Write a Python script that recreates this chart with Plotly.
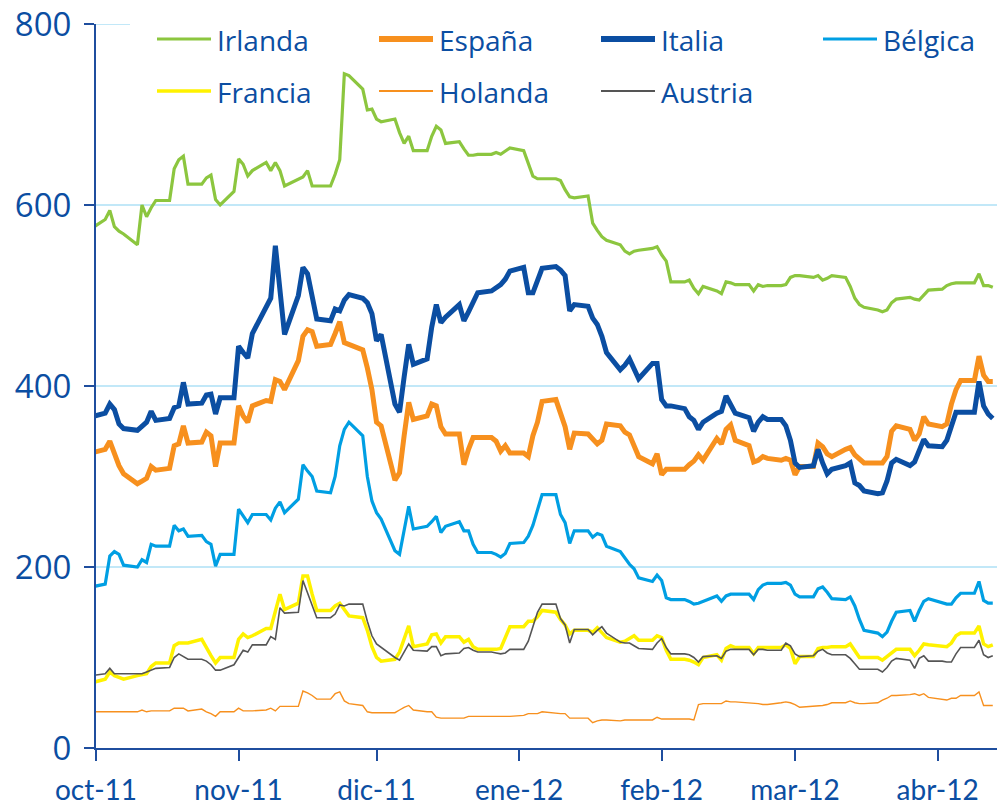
import pandas as pd
import plotly.graph_objects as go

# Business days from 30-Sep-2011 to 13-Apr-2012 (141 observations)
dates = pd.bdate_range("2011-09-30", "2012-04-13")

irlanda = [574,
    584, 594, 576, 571, 568, 556, 600, 587, 597, 605, 605, 640, 650, 654, 623, 623, 630, 633, 606, 600, 615,
    651, 645, 632, 638, 647, 638, 647, 638, 621, 629, 631, 638, 621, 621, 621, 634, 650, 745, 743, 728, 705, 706,
    695, 692, 695, 680, 668, 676, 660, 660, 676, 687, 683, 668, 670, 662, 655, 655, 656, 656, 658, 656, 660, 663,
    660, 645, 632, 629, 629, 629, 627, 617, 609, 608, 610, 580, 572, 565, 561, 556, 549, 546, 549, 550, 552, 554,
    545, 538, 515, 515, 517, 508, 502, 510, 505, 502, 515, 514, 512, 512, 505, 512, 510, 511, 511, 512, 520,
    522, 522, 520, 522, 517, 519, 522, 520, 510, 497, 490, 487, 484, 482, 484, 492, 496, 498, 496, 495, 501, 506,
    507, 511, 513, 514, 514, 514, 524, 511, 511, 509]

espana = [326,
    330, 339, 324, 312, 303, 292, 295, 298, 311, 307, 309, 334, 336, 356, 337, 338, 349, 345, 311, 337, 337,
    378, 367, 360, 378, 384, 383, 407, 405, 396, 428, 455, 462, 460, 444, 446, 458, 471, 448, 446, 440, 420, 396,
    360, 356, 296, 304, 345, 382, 363, 367, 380, 378, 355, 347, 347, 313, 330, 343, 343, 343, 339, 328, 334, 326,
    326, 322, 345, 360, 383, 385, 370, 355, 330, 348, 347, 342, 336, 340, 358, 356, 349, 346, 335, 322, 314, 325,
    302, 308, 308, 308, 313, 317, 324, 318, 342, 336, 352, 357, 340, 334, 316, 318, 322, 320, 318, 320, 318,
    302, 311, 311, 337, 333, 325, 322, 330, 332, 324, 320, 315, 315, 315, 322, 350, 356, 352, 340, 347, 366, 358,
    355, 358, 380, 396, 406, 406, 433, 412, 405, 405]

italia = [366,
    370, 380, 374, 358, 353, 351, 356, 360, 372, 362, 364, 376, 378, 404, 380, 381, 390, 391, 369, 387, 387,
    444, 437, 431, 458, 488, 497, 555, 506, 457, 500, 531, 524, 500, 474, 472, 485, 483, 495, 501, 497, 492, 480,
    450, 457, 380, 371, 410, 446, 424, 430, 465, 490, 470, 476, 490, 472, 482, 494, 503, 505, 509, 512, 518, 527,
    531, 503, 503, 515, 530, 532, 528, 522, 483, 490, 488, 475, 468, 455, 437, 418, 423, 430, 420, 408, 425, 425,
    385, 378, 378, 375, 366, 362, 352, 360, 370, 372, 389, 378, 370, 365, 350, 360, 366, 363, 363, 356, 340,
    315, 310, 312, 330, 315, 303, 308, 312, 315, 293, 290, 284, 281, 282, 295, 315, 319, 312, 316, 328, 341, 334,
    333, 340, 358, 371, 371, 371, 405, 378, 369, 364]

belgica = [178,
    181, 212, 217, 214, 202, 200, 208, 205, 225, 223, 223, 246, 240, 242, 234, 235, 228, 225, 201, 214, 214,
    264, 256, 249, 258, 258, 252, 265, 272, 260, 275, 313, 306, 300, 284, 282, 300, 334, 352, 360, 345, 300, 273,
    260, 253, 218, 214, 240, 267, 242, 245, 250, 256, 238, 245, 250, 240, 240, 225, 216, 216, 214, 211, 215, 226,
    227, 234, 246, 262, 280, 280, 258, 249, 226, 240, 240, 233, 237, 235, 223, 217, 210, 203, 198, 188, 184, 191,
    185, 166, 164, 164, 162, 159, 160, 162, 168, 162, 168, 170, 170, 170, 164, 175, 180, 182, 182, 183, 180,
    170, 167, 167, 176, 178, 172, 165, 164, 167, 157, 142, 130, 127, 123, 128, 140, 150, 152, 140, 152, 162, 165,
    160, 159, 159, 166, 171, 171, 184, 163, 160, 160]

francia = [72,
    76, 84, 80, 78, 76, 80, 81, 82, 90, 94, 94, 113, 116, 116, 116, 120, 110, 102, 94, 100, 100,
    120, 126, 122, 124, 132, 132, 150, 170, 153, 160, 190, 190, 170, 152, 152, 157, 160, 153, 146, 144, 130, 112,
    100, 96, 98, 106, 120, 135, 112, 115, 125, 126, 116, 123, 123, 117, 120, 112, 109, 109, 109, 110, 122, 134,
    134, 140, 140, 145, 152, 150, 142, 136, 126, 130, 130, 128, 133, 128, 122, 117, 118, 121, 124, 119, 119, 124,
    122, 108, 98, 98, 97, 95, 92, 100, 103, 97, 110, 113, 111, 111, 104, 111, 111, 111, 111, 114, 110,
    93, 101, 101, 110, 111, 111, 112, 112, 115, 108, 100, 100, 100, 97, 101, 106, 109, 109, 102, 108, 115, 114,
    112, 112, 116, 124, 127, 127, 135, 115, 112, 114]

holanda = [40,
    40, 40, 40, 40, 40, 40, 42, 40, 41, 41, 41, 44, 44, 44, 41, 43, 40, 38, 35, 40, 40,
    44, 41, 41, 41, 42, 44, 41, 46, 46, 46, 63, 61, 58, 54, 54, 60, 62, 52, 49, 47, 40, 39,
    39, 39, 39, 42, 45, 47, 42, 40, 40, 34, 33, 33, 33, 33, 35, 35, 35, 35, 35, 35, 35, 35,
    36, 38, 38, 38, 40, 38, 38, 38, 33, 33, 33, 28, 30, 31, 31, 30, 31, 31, 31, 31, 31, 34,
    32, 32, 32, 32, 32, 31, 48, 49, 49, 49, 52, 51, 51, 50, 50, 49, 48, 48, 50, 51, 50,
    48, 45, 46, 47, 47, 48, 50, 50, 52, 50, 49, 49, 50, 53, 55, 58, 58, 59, 60, 58, 60, 56,
    54, 53, 55, 55, 58, 58, 62, 47, 47, 47]

austria = [80,
    82, 88, 82, 82, 82, 82, 82, 84, 86, 88, 89, 100, 104, 101, 98, 98, 96, 92, 86, 86, 92,
    100, 108, 106, 114, 114, 123, 120, 155, 149, 150, 185, 172, 157, 144, 144, 148, 158, 157, 159, 159, 140, 124,
    115, 111, 100, 97, 106, 115, 108, 107, 112, 112, 102, 104, 105, 110, 111, 108, 106, 106, 105, 104, 105, 109,
    109, 118, 134, 150, 159, 159, 143, 136, 116, 131, 131, 125, 130, 134, 127, 117, 116, 116, 113, 110, 109, 116,
    121, 111, 104, 104, 103, 100, 95, 101, 102, 99, 107, 109, 109, 109, 103, 109, 109, 108, 108, 116, 113,
    104, 101, 102, 107, 109, 105, 103, 103, 99, 93, 87, 87, 87, 84, 89, 96, 99, 97, 88, 99, 102, 96,
    96, 95, 95, 104, 111, 111, 119, 103, 100, 102]

tick_dates = ["2011-10-01", "2011-11-01", "2011-12-01", "2012-01-01",
              "2012-02-01", "2012-03-01", "2012-04-01"]
tick_labels = ["oct-11", "nov-11", "dic-11", "ene-12", "feb-12", "mar-12", "abr-12"]
y_ticks = [0, 200, 400, 600, 800]

series = [
    ("Irlanda", irlanda, "#8CC63F", 3.2),
    ("España", espana, "#F7901E", 5),
    ("Italia", italia, "#0B4EA2", 5),
    ("Bélgica", belgica, "#009FE3", 3.2),
    ("Francia", francia, "#FFF200", 3.5),
    ("Holanda", holanda, "#F7901E", 1.4),
    ("Austria", austria, "#555555", 1.6),
]
for name, vals, _, _ in series:
    assert len(vals) == len(dates), (name, len(vals), len(dates))

TXT = "#0B4EA2"
AX = "#1F4E9E"
GRID = "#C2E8F8"

W, H = 997, 807
L, R, T, B = 96, 0, 24, 807 - 748

PLOT_L, PLOT_R, PLOT_T, PLOT_B = 96, 997, 24, 748  # page pixels

def px2x(px):
    return (px - PLOT_L) / (PLOT_R - PLOT_L)

def py2y(py):
    return (PLOT_B - py) / (PLOT_B - PLOT_T)

fig = go.Figure()
for name, vals, color, width in series:
    fig.add_trace(go.Scatter(x=dates, y=vals, mode="lines", name=name,
                             line=dict(color=color, width=width), showlegend=False))

shapes = []
for g in [200, 400, 600]:
    shapes.append(dict(type="line", xref="paper", yref="y", x0=0, x1=1, y0=g, y1=g,
                       line=dict(color=GRID, width=2), layer="below"))
shapes.append(dict(type="line", xref="paper", yref="y", x0=0, x1=px2x(130), y0=800, y1=800,
                   line=dict(color=GRID, width=2), layer="below"))

annotations = []
cols = [157, 379, 601, 823]
rows = [39, 91]
for i, (name, vals, color, width) in enumerate(series):
    cx = cols[i % 4]
    ry = rows[i // 4]
    lw = 6 if width >= 5 else max(width, 2)
    shapes.append(dict(type="line", xref="paper", yref="paper",
                       x0=px2x(cx), x1=px2x(cx + 54), y0=py2y(ry), y1=py2y(ry),
                       line=dict(color=color, width=lw)))
    annotations.append(dict(text=name, xref="paper", yref="paper", x=px2x(cx + 58), y=py2y(ry + 1),
                            xanchor="left", yanchor="middle", showarrow=False,
                            font=dict(family="Open Sans", size=28, color=TXT)))

fig.update_layout(
    width=W, height=H,
    margin=dict(l=L, r=R, t=T, b=B, autoexpand=False),
    paper_bgcolor="white", plot_bgcolor="white",
    shapes=shapes, annotations=annotations,
    showlegend=False,
    xaxis=dict(type="date", range=["2011-10-01", "2012-04-13 22:00"],
               tickvals=tick_dates, ticktext=tick_labels,
               ticks="outside", ticklen=11, tickwidth=2, tickcolor=AX,
               showline=True, linecolor=AX, linewidth=2,
               showgrid=False, zeroline=False, automargin=False,
               ticklabelstandoff=5, ticklabeloverflow="allow",
               tickfont=dict(family="Lato", size=28, color=TXT)),
    yaxis=dict(range=[0, 800], tickvals=y_ticks,
               ticks="outside", ticklen=10, tickwidth=2, tickcolor=AX,
               showline=True, linecolor=AX, linewidth=2,
               showgrid=False, zeroline=False, automargin=False,
               ticklabelstandoff=6, ticklabeloverflow="allow",
               tickfont=dict(family="Open Sans", size=33, color=TXT)),
)

fig.write_html("out.html",
               config={"displayModeBar": False},
               post_script="document.body.style.margin='0px';document.body.style.padding='0px';")
